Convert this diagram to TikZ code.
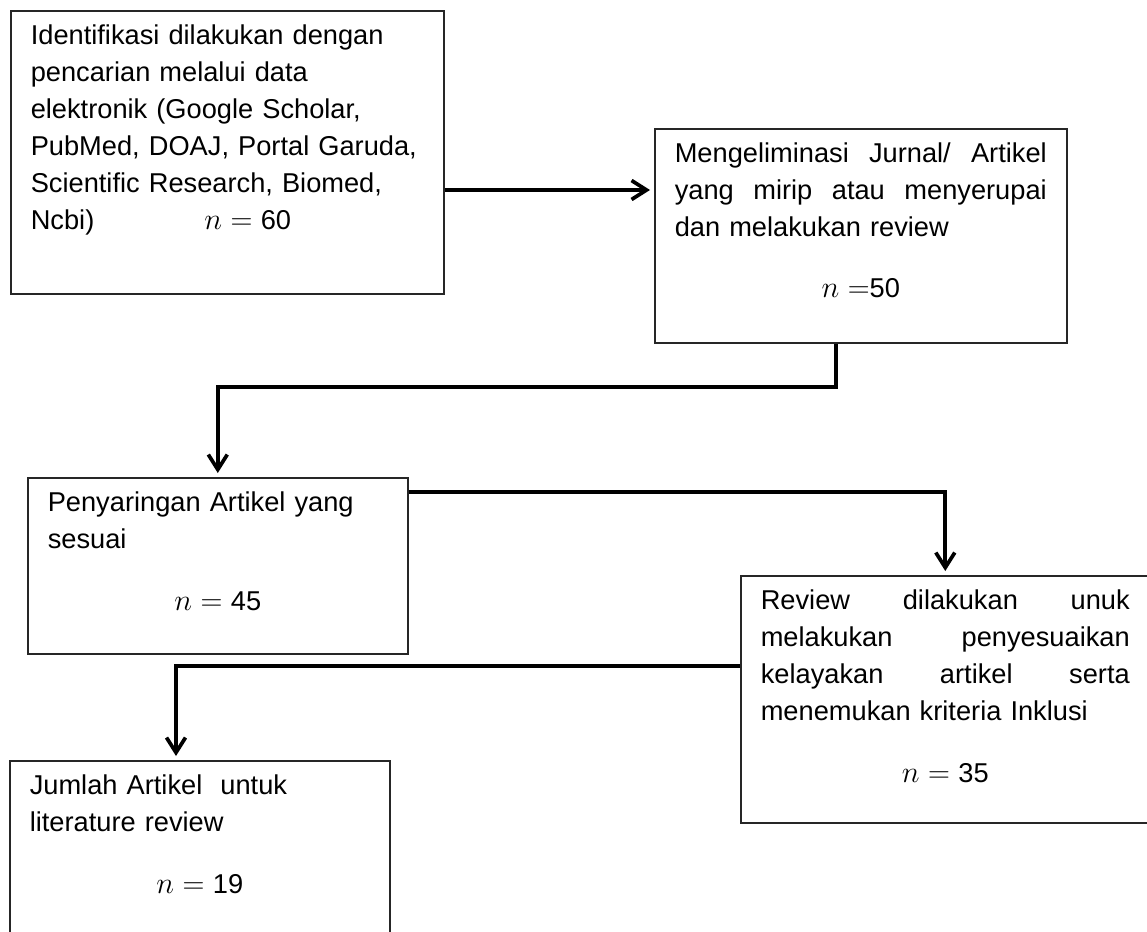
\documentclass[tikz,border=0pt]{standalone}
\usepackage{fontspec}
\setmainfont{Liberation Sans}
\usetikzlibrary{arrows.meta}

\newcommand{\spreadline}[1]{\makebox[\hsize][s]{\spaceskip=.3em plus 1fil\relax #1}}
\newcommand{\countline}[1]{\makebox[\hsize]{#1}}
\newcommand{\countn}[1]{{\fontsize{19}{21}\selectfont$n#1$}}

\begin{document}
\begin{tikzpicture}[
    x=0.2mm, y=-0.2mm,
    flow box/.style={draw=black!85, line width=0.9pt, anchor=north west,
        inner xsep=4mm, inner ysep=0pt, align=left, text height=6.8mm,
        font=\fontsize{15.5}{21}\selectfont},
    flow line/.style={line width=2.1pt, shorten >=0.8mm,
        -{Straight Barb[length=3mm,width=3.8mm]}}
]

% Frame
\useasboundingbox (0,0) rectangle (1147,932);
\clip (0,0) rectangle (1147,932);

% Boxes
\node[flow box, text width=78.6mm, text depth=49.8mm] (b1) at (10,10) {%
    Identifikasi dilakukan dengan\\
    pencarian melalui data\\
    elektronik (Google Scholar,\\
    PubMed, DOAJ, Portal Garuda,\\
    Scientific Research, Biomed,\\
    Ncbi)\hspace{22mm}\countn{={}}60};

\node[flow box, text width=74.4mm, text depth=36mm] (b2) at (654,128) {%
    \spreadline{Mengeliminasi Jurnal/ Artikel}\\
    \spreadline{yang mirip atau menyerupai}\\
    dan melakukan review\\[4.8mm]
    \countline{\countn{=}50}};

\node[flow box, text width=68mm, text depth=28.4mm] (b3) at (27,477) {%
    Penyaringan Artikel yang\\
    sesuai\\[5mm]
    \countline{\countn{={}}45}};

\node[flow box, text width=73.8mm, text depth=42.6mm] (b4) at (740,575) {%
    \spreadline{Review dilakukan unuk}\\
    \spreadline{melakukan penyesuaikan}\\
    \spreadline{kelayakan artikel serta}\\
    menemukan kriteria Inklusi\\[5mm]
    \countline{\countn{={}}35}};

\node[flow box, text width=68mm, text depth=29.2mm] (b5) at (9,760) {%
    Jumlah Artikel\ \ untuk\\
    literature review\\[5mm]
    \countline{\countn{={}}19}};

% Connectors
\draw[flow line] (b1.east |- 0,190) -- (b2.west |- 0,190);
\draw[flow line] (b2.south -| 836,0) -- (836,387) -| (b3.north);
\draw[flow line] (b3.east |- 0,492) -| (b4.north);
\draw[flow line] (b4.west |- 0,666) -| (b5.north -| 176,0);

\end{tikzpicture}
\end{document}
